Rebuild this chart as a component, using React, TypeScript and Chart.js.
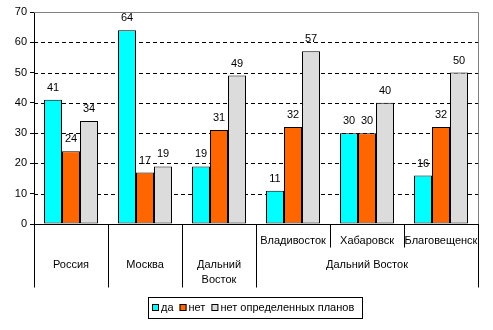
import React, { useEffect, useRef } from 'react';
import { Chart, registerables } from 'chart.js';

Chart.register(...registerables);

const categories = ['Россия', 'Москва', 'Дальний Восток', 'Владивосток', 'Хабаровск', 'Благовещенск'];
const categoryLines = [['Россия'], ['Москва'], ['Дальний', 'Восток'], ['Владивосток'], ['Хабаровск'], ['Благовещенск']];
const categoryGroups = ['', '', '', 'Дальний Восток', 'Дальний Восток', 'Дальний Восток'];
const seriesNames = ['да', 'нет', 'нет определенных планов'];
const yesValues = [41, 64, 19, 11, 30, 16];
const noValues = [24, 17, 31, 32, 30, 32];
const undecidedValues = [34, 19, 49, 57, 40, 50];
const seriesColors = ['#00FFFF', '#FF6600', '#DCDCDC'];
const yMin = 0;
const yMax = 70;
const yStep = 10;

const FONT = "11px 'Liberation Sans', Arial, sans-serif";

const customPlugin = {
  id: 'excelLook',
  beforeDatasetsDraw(chart: any) {
    const { ctx, chartArea } = chart;
    const y = chart.scales.y;
    ctx.save();
    ctx.strokeStyle = '#000';
    ctx.lineWidth = 1;
    ctx.setLineDash([4, 3]);
    y.ticks.forEach((t: any) => {
      if (t.value === yMin || t.value === yMax) return;
      const py = Math.round(y.getPixelForValue(t.value)) + 0.5;
      ctx.beginPath();
      ctx.moveTo(chartArea.left, py);
      ctx.lineTo(chartArea.right, py);
      ctx.stroke();
    });
    ctx.setLineDash([]);
    ctx.strokeStyle = '#808080';
    const top = Math.round(y.getPixelForValue(yMax)) + 0.5;
    const right = Math.round(chartArea.right) + 0.5;
    ctx.beginPath();
    ctx.moveTo(chartArea.left, top);
    ctx.lineTo(right, top);
    ctx.lineTo(right, chartArea.bottom);
    ctx.stroke();
    ctx.restore();
  },
  afterDatasetsDraw(chart: any) {
    const { ctx } = chart;
    ctx.save();
    ctx.font = FONT;
    ctx.fillStyle = '#000';
    ctx.textAlign = 'center';
    ctx.textBaseline = 'middle';
    chart.data.datasets.forEach((ds: any, di: number) => {
      const meta = chart.getDatasetMeta(di);
      meta.data.forEach((bar: any, i: number) => {
        ctx.fillText(String(ds.data[i]), bar.x, bar.y - 12);
      });
    });
    ctx.restore();
  },
  afterDraw(chart: any) {
    const { ctx, chartArea } = chart;
    const x = chart.scales.x;
    const n = categories.length;
    const half = (x.getPixelForValue(1) - x.getPixelForValue(0)) / 2;
    const base = Math.round(chartArea.bottom) + 0.5;
    ctx.save();
    ctx.strokeStyle = '#000';
    ctx.lineWidth = 1;
    ctx.beginPath();
    ctx.moveTo(chartArea.left, base);
    ctx.lineTo(chartArea.right + 1, base);
    ctx.stroke();
    const fullBottom = base + 63;
    const shortBottom = base + 23;
    for (let i = 0; i <= n; i++) {
      const px = Math.round(i < n ? x.getPixelForValue(i) - half : x.getPixelForValue(n - 1) + half) + 0.5;
      let bottom = fullBottom;
      if (i > 0 && i < n && categoryGroups[i] && categoryGroups[i] === categoryGroups[i - 1]) bottom = shortBottom;
      ctx.beginPath();
      ctx.moveTo(px, base);
      ctx.lineTo(px, bottom);
      ctx.stroke();
    }
    ctx.font = FONT;
    ctx.fillStyle = '#000';
    ctx.textAlign = 'center';
    ctx.textBaseline = 'middle';
    for (let i = 0; i < n; i++) {
      const cx = x.getPixelForValue(i);
      const lines = categoryLines[i];
      const startY = categoryGroups[i] ? base + 16 : base + 40;
      lines.forEach((l, k) => ctx.fillText(l, cx, startY + k * 15));
    }
    let i = 0;
    while (i < n) {
      if (!categoryGroups[i]) { i++; continue; }
      let j = i;
      while (j + 1 < n && categoryGroups[j + 1] === categoryGroups[i]) j++;
      const cx = (x.getPixelForValue(i) + x.getPixelForValue(j)) / 2;
      ctx.fillText(categoryGroups[i], cx, base + 40);
      i = j + 1;
    }
    const lx = 148.5, ly = 297.5, lw = 214, lh = 21;
    ctx.strokeRect(lx, ly, lw, lh);
    let cur = 152;
    const sy = 304;
    ctx.textAlign = 'left';
    chart.data.datasets.forEach((ds: any) => {
      ctx.fillStyle = ds.backgroundColor;
      ctx.fillRect(cur, sy, 7, 7);
      ctx.strokeStyle = '#000';
      ctx.strokeRect(cur + 0.5, sy + 0.5, 6, 6);
      ctx.fillStyle = '#000';
      ctx.fillText(ds.label, cur + 9, sy + 3.5);
      cur += 9 + ctx.measureText(ds.label).width + 6;
    });
    ctx.restore();
  },
};

export default function App() {
  const ref = useRef<HTMLCanvasElement>(null);
  useEffect(() => {
    if (!ref.current) return;
    const values = [yesValues, noValues, undecidedValues];
    const chart = new Chart(ref.current, {
      type: 'bar',
      data: {
        labels: categories,
        datasets: seriesNames.map((name, k) => ({
          label: name,
          data: values[k],
          backgroundColor: seriesColors[k],
          borderColor: '#000',
          borderWidth: 1,
          borderSkipped: false,
          categoryPercentage: 0.73,
          barPercentage: 1,
        })),
      },
      options: {
        responsive: false,
        animation: false,
        layout: { padding: { top: 12, right: 15, left: 0, bottom: 0 } },
        plugins: { legend: { display: false }, tooltip: { enabled: false }, title: { display: false } },
        scales: {
          x: {
            display: true,
            ticks: { display: false },
            grid: { display: false },
            border: { display: false },
            afterFit: (s: any) => { s.height = 106; },
          },
          y: {
            min: yMin,
            max: yMax,
            ticks: { stepSize: yStep, color: '#000', font: { family: "'Liberation Sans', Arial, sans-serif", size: 11 }, padding: 3 },
            grid: { drawOnChartArea: false, drawTicks: true, tickLength: 4, color: '#000' },
            border: { display: true, color: '#000' },
            afterFit: (s: any) => { s.width = 34; },
          },
        },
      },
      plugins: [customPlugin],
    });
    return () => chart.destroy();
  }, []);
  return (
    <div style={{ position: 'absolute', left: 0, top: 0, width: 493, height: 330, background: '#fff' }}>
      <canvas ref={ref} width={493} height={330} style={{ width: 493, height: 330 }} />
    </div>
  );
}
